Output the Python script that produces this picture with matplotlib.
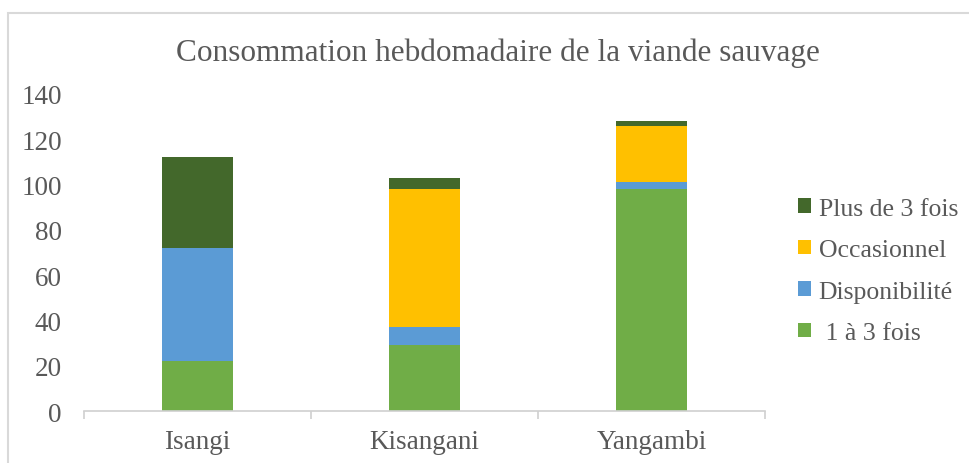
import numpy as np
import matplotlib
matplotlib.use('Agg')
from matplotlib import pyplot as plt
from matplotlib.patches import Rectangle

plt.rcParams['font.family'] = ['Liberation Serif', 'DejaVu Serif']

# data
sites = ['Isangi', 'Kisangani', 'Yangambi']
un_a_trois = [22, 29, 98]
disponibilite = [50, 8, 3]
occasionnel = [0, 61, 25]
plus_de_trois = [40, 5, 2]

series = [
    (' 1 à 3 fois', un_a_trois, '#70ad47'),
    ('Disponibilité', disponibilite, '#5b9bd5'),
    ('Occasionnel', occasionnel, '#ffc000'),
    ('Plus de 3 fois', plus_de_trois, '#43682b'),
]

grey = '#595959'

fig = plt.figure(figsize=(9.69, 4.64), dpi=100)
ax = fig.add_axes([84 / 969, 1 - 412 / 464, 681 / 969, 317 / 464])

x = np.arange(len(sites))
bottom = np.zeros(len(sites))
handles = []
for name, vals, col in series:
    b = ax.bar(x, vals, 0.313, bottom=bottom, color=col, label=name, zorder=2)
    handles.append(b)
    bottom += np.array(vals)

ax.set_xlim(-0.5, 2.5)
ax.set_ylim(0, 140)
ax.set_yticks(np.arange(0, 141, 20))
ax.set_xticks(x)
ax.set_xticklabels(sites)
ax.set_xticks([-0.5, 0.5, 1.5, 2.5], minor=True)
ax.tick_params(axis='x', which='major', length=0, labelsize=19.5, labelcolor=grey, pad=13)
ax.tick_params(axis='x', which='minor', length=6, color='#d0d0d0', width=1.2)
ax.tick_params(axis='y', length=0, labelsize=19.5, labelcolor=grey, pad=16)
for s in ['top', 'right', 'left']:
    ax.spines[s].set_visible(False)
ax.spines['bottom'].set_color('#d0d0d0')
ax.spines['bottom'].set_linewidth(1.2)

fig.text(497.5 / 969, 1 - 53 / 464, 'Consommation hebdomadaire de la viande sauvage',
         ha='center', va='center', fontsize=22.5, color=grey)

leg = fig.legend(handles[::-1], [s[0] for s in series][::-1],
                 loc='center left', bbox_to_anchor=(775 / 969, 1 - 272 / 464),
                 frameon=False, fontsize=18.5, labelcolor=grey,
                 handlelength=0.5, handleheight=0.5, handletextpad=0.3,
                 labelspacing=0.76)

# outer chart border
fig.add_artist(Rectangle((8 / 969, -0.05), 1.1, 1 - 14 / 464 + 0.05,
                         transform=fig.transFigure, fill=False,
                         edgecolor='#d9d9d9', linewidth=1.5, clip_on=False))

fig.savefig('out.png', dpi=100)
